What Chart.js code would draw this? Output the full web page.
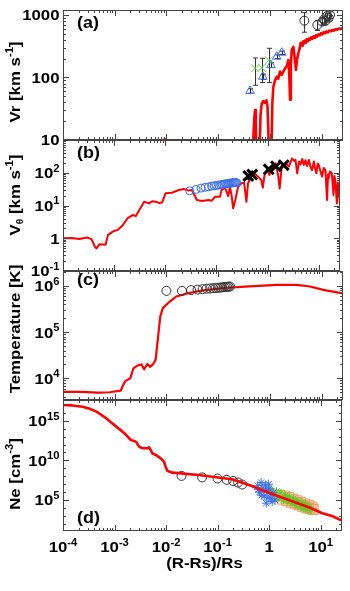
<!DOCTYPE html>
<html><head><meta charset="utf-8">
<script src="https://cdn.jsdelivr.net/npm/chart.js@4.4.1/dist/chart.umd.min.js"></script>
<style>
html,body{margin:0;padding:0;background:#fff;width:350px;height:591px;overflow:hidden;position:relative}
canvas{position:absolute;left:0}
</style></head><body>
<canvas id="ca" width="350" height="150" style="top:0px"></canvas>
<canvas id="cb" width="350" height="151" style="top:130px"></canvas>
<canvas id="cc" width="350" height="149" style="top:261px"></canvas>
<canvas id="cd" width="350" height="201" style="top:390px"></canvas>
<script>
// ---------- tick labels ----------
const xTickVals = [1e-4, 1e-3, 1e-2, 1e-1, 1, 10];
const xTickLabels = ['10^{-4}', '10^{-3}', '10^{-2}', '10^{-1}', '1', '10^{1}'];
const xTitle = '(R-Rs)/Rs';

const vrTickVals = [10, 100, 1000];
const vrTickLabels = ['10', '100', '1000'];
const vtTickVals = [0.1, 1, 10, 100];
const vtTickLabels = ['10^{-1}', '1', '10^{1}', '10^{2}'];
const tTickVals = [1e4, 1e5, 1e6];
const tTickLabels = ['10^{4}', '10^{5}', '10^{6}'];
const neTickVals = [1e5, 1e10, 1e15];
const neTickLabels = ['10^{5}', '10^{10}', '10^{15}'];

const titles = ['Vr [km s^{-1}]', 'V_{θ} [km s^{-1}]', 'Temperature [K]', 'Ne [cm^{-3}]'];
const panelLabels = ['(a)', '(b)', '(c)', '(d)'];

// ---------- panel (a): radial velocity ----------
const vrModel = [[0.0088,4],[0.0093,10.4],[0.0098,4],[0.30,3],[0.46,5],[0.50,22],[0.518,30],[0.535,15],[0.556,5],
 [0.63,5],[0.66,25],[0.697,38],[0.75,42],[0.80,39],[0.86,43],[0.90,35],[0.94,12],[0.97,4],[1.06,4],[1.12,40],
 [1.17,71],[1.26,90],[1.36,103],[1.45,95],[1.57,124],[1.70,110],[1.83,125],[1.97,140],[2.12,150],[2.28,190],
 [2.37,120],[2.46,44],[2.55,150],[2.65,275],[2.85,310],[3.0,220],[3.2,132],[3.38,200],[3.56,244],[3.8,300],
 [3.95,360],[4.14,352],[4.3,320],[4.45,380],[4.6,350],[4.8,390],[5.0,360],[5.2,410],[5.4,380],[5.7,420],
 [6.0,400],[6.3,440],[6.6,415],[7.0,455],[7.4,430],[7.8,475],[8.2,450],[8.7,490],[9.2,470],[9.8,510],
 [10.4,490],[11.0,530],[11.7,510],[12.4,545],[13.2,525],[14.0,560],[15.0,545],[16.0,575],[17.2,560],
 [18.5,590],[20.0,580],[21.5,605],[23.0,595],[25.0,615],[26.5,612]];
// [x, v, error]
const vrCircles = [[4.65,810,280],[8.3,690,125],[10.3,780,90],[11.2,850,100],[11.8,800,90],[12.8,960,110],[13.8,900,100],[14.6,1000,120]];
const vrTriangles = [[0.414,61,5],[0.73,103,10],[1.05,158,14],[1.36,215,15],[1.70,249,15]];
const vrCrosses = [[0.518,140,65],[0.70,143,60],[0.96,188,105]];

// ---------- panel (b): tangential velocity ----------
const vtModel = [[1e-4,1.0],[1.47e-4,1.02],[2.1e-4,0.95],[2.96e-4,1.05],[3.6e-4,0.94],[4.2e-4,0.55],[4.5e-4,0.49],
 [5.2e-4,0.66],[6.8e-4,0.63],[7.6e-4,1.27],[9.4e-4,1.6],[1.17e-3,1.8],[1.47e-3,2.5],[1.84e-3,4.1],[2.3e-3,5.1],
 [2.66e-3,4.8],[3.1e-3,7.3],[3.86e-3,13],[4.8e-3,11.6],[5.5e-3,13.5],[6.5e-3,13],[7.5e-3,12],[8.7e-3,12.4],
 [1.01e-2,23.5],[1.35e-2,24.6],[1.83e-2,29.7],[2.29e-2,32],[2.86e-2,28.5],[3.3e-2,29.7],[4.15e-2,14.7],
 [5.2e-2,13.7],[7.0e-2,14.7],[8.1e-2,14],[9.4e-2,18.5],[0.117,18.6],[0.126,30],[0.147,35],[0.17,19.4],
 [0.183,37.5],[0.197,21],[0.212,8.2],[0.235,15.5],[0.265,37.5],[0.307,47.6],[0.346,50],[0.385,13],[0.414,47.6],
 [0.48,76],[0.557,96],[0.646,76],[0.75,60],[0.807,35],[0.87,85],[1.0,136],[1.08,85],[1.16,120],[1.43,194],
 [1.6,85],[1.72,33],[1.9,173],[2.26,194],[2.6,155],[3.0,275],[3.3,230],[3.5,250],[3.79,96],[4.1,220],[4.4,180],
 [4.75,263],[5.1,172],[5.5,240],[5.9,160],[6.4,245],[6.9,150],[7.4,120],[8.0,220],[8.5,130],[9.0,96],[9.5,190],
 [10,173],[10.8,110],[11.6,76],[12.5,140],[13.5,120],[14.5,14.7],[15.2,90],[15.6,67],[16.5,110],[18,96],
 [19.4,21],[20.2,80],[21,60],[22.6,11.6],[23.5,50],[24.3,37.5],[25.2,20],[26,10.3]];
const vtCircles = [[0.03,28],[0.04,31],[0.05,34],[0.06,36],[0.07,37],[0.08,39],[0.09,40],[0.10,41],[0.11,42],
 [0.12,43],[0.13,44],[0.14,45],[0.15,46],[0.16,46],[0.17,47],[0.18,48],[0.19,48],[0.20,49],[0.21,49],[0.22,50],
 [0.23,50],[0.24,50],[0.25,49]];
const vtCrosses = [[0.42,80],[0.50,88],[1.05,127],[1.46,158],[2.06,170]];

// ---------- panel (c): temperature ----------
const tModel = [[1e-4,5100],[2.4e-4,5100],[4.6e-4,4900],[8e-4,5000],[1.3e-3,5400],[1.46e-3,7200],[1.6e-3,8700],
 [2.0e-3,10000],[2.3e-3,16500],[2.7e-3,18700],[3.3e-3,20000],[3.7e-3,15700],[4.3e-3,20500],[4.8e-3,17800],
 [5.5e-3,20000],[6.2e-3,25700],[6.9e-3,79000],[7.6e-3,216000],[8.5e-3,330000],[1.07e-2,422000],[1.55e-2,590000],
 [2.6e-2,694000],[4.7e-2,790000],[0.115,890000],[0.33,966000],[1.35,1.05e6],[3.3,1.05e6],[6.0,970000],
 [10.8,820000],[26,690000]];
const tCircles = [[0.01,780000],[0.02,780000],[0.03,810000],[0.04,830000],[0.05,850000],[0.06,870000],
 [0.07,880000],[0.08,890000],[0.09,900000],[0.10,910000],[0.11,920000],[0.12,930000],[0.13,940000],
 [0.14,950000],[0.15,955000],[0.16,960000],[0.17,970000]];

// ---------- panel (d): electron density ----------
const neModel = [[1e-4,9.5e16],[1.5e-4,8.5e16],[2.4e-4,5.9e16],[3.3e-4,3.2e16],[4.45e-4,1.4e16],[5.5e-4,5.6e15],
 [6.9e-4,2e15],[8.5e-4,6.3e14],[1.08e-3,1.8e14],[1.56e-3,2.6e13],[2.08e-3,3.7e12],[2.6e-3,2.3e12],[3.0e-3,5.4e11],
 [3.5e-3,3.3e11],[4.36e-3,3.3e11],[4.7e-3,4.4e11],[5.05e-3,2.0e11],[5.4e-3,7.8e10],[6.3e-3,4.8e10],[7.9e-3,1.8e10],
 [9.1e-3,6.9e9],[9.8e-3,1.6e9],[1.06e-2,5e8],[1.33e-2,2.8e8],[4.3e-2,1.4e8],[0.19,4.1e7],[0.41,7.9e6],[1.0,8.3e5],
 [2.4,1e5],[5.9,1.2e4],[10.8,2.1e3],[16.7,950],[26,245]];
const neCircles = [[0.02,1.1e8],[0.05,7.1e7],[0.1,5.2e7],[0.15,3.5e7],[0.2,2.5e7],[0.25,1.6e7],[0.3,8.9e6]];
const neStars = [[0.6,6.3e6],[0.65,1e6],[0.7,1.6e7],[0.75,3.2e6],[0.8,3.2e5],[0.85,7.9e6],[0.9,1.6e6],[0.95,2e5],
 [1.0,2.5e6],[1.05,6.3e5],[1.1,1.6e5],[1.2,7.9e5],[1.3,1e5],[0.72,4e5],[0.88,4e4],[1.15,6.3e4],[0.62,2e6],[0.98,1e7]];
const neGreen = [[1.1,2.5e6],[1.25,4e5],[1.4,1.3e6],[1.55,1.6e5],[1.7,7.9e5],[1.9,1e5],[2.1,4e5],[2.3,6.3e4],
 [2.5,2.5e5],[2.8,4e4],[3.0,1.6e5],[3.3,2.5e4],[3.6,8e4],[4.0,1.3e4],[4.3,5e4],[4.7,8e3],[5.1,3.2e4],[5.5,6.3e3],
 [6.0,1.6e4],[6.5,5e3]];
const neSquares = [[1.6,4e5],[1.8,1.3e5],[2.0,3.2e5],[2.2,8e4],[2.4,2e5],[2.7,5e4],[2.9,1.3e5],[3.2,3.2e4],[3.5,8e4],
 [3.8,2.5e4],[4.1,5e4],[4.5,1.6e4],[4.9,3.2e4],[5.3,1e4],[5.8,2e4],[6.3,8e3],[6.8,1.3e4],[7.2,6.3e3]];

// ---------- helpers ----------
const FONT = '"Liberation Sans", Arial, Helvetica, sans-serif';
const SX = 1.12;
const pts = a => a.map(p => ({x: p[0], y: p[1]}));

function parseRich(s) {
  const out = []; let buf = '', i = 0;
  while (i < s.length) {
    const c = s[i];
    if ((c === '^' || c === '_') && s[i + 1] === '{') {
      if (buf) { out.push([buf, 'n']); buf = ''; }
      const j = s.indexOf('}', i);
      out.push([s.slice(i + 2, j), c === '^' ? 'sup' : 'sub']);
      i = j + 1;
    } else { buf += c; i++; }
  }
  if (buf) out.push([buf, 'n']);
  return out;
}
function drawRich(ctx, str, x, y, align, size) {
  const segs = parseRich(str).map(([t, k]) => {
    const s = k === 'n' ? size : (k === 'sup' ? Math.round(size * 0.66) : Math.round(size * 0.6));
    ctx.font = `bold ${s}px ${FONT}`;
    return {t, k, s, w: ctx.measureText(t).width * SX};
  });
  const W = segs.reduce((a, b) => a + b.w, 0);
  let cx = align === 'center' ? x - W / 2 : (align === 'right' ? x - W : x);
  ctx.textAlign = 'left'; ctx.textBaseline = 'alphabetic';
  for (const g of segs) {
    const dy = g.k === 'sup' ? -size * 0.43 : (g.k === 'sub' ? size * 0.22 : 0);
    ctx.font = `bold ${g.s}px ${FONT}`;
    ctx.save(); ctx.translate(cx, y + dy); ctx.scale(SX, 1); ctx.fillText(g.t, 0, 0); ctx.restore();
    cx += g.w;
  }
}
function minors(lo, hi, mode) {
  const out = [];
  for (let e = Math.floor(Math.log10(lo)) - 1; e <= Math.ceil(Math.log10(hi)); e++) {
    const d = Math.pow(10, e);
    if (mode === 'dec') { if (d >= lo && d <= hi) out.push(d); }
    else for (let k = 2; k <= 9; k++) { const v = k * d; if (v >= lo * 0.999 && v <= hi) out.push(v); }
  }
  return out;
}

const PANELS = {
  ca: {top: 0, yMin: 10, yMax: 1200, tv: vrTickVals, tl: vrTickLabels, ym: 'sub', title: titles[0], titleY: 82, label: panelLabels[0], labelY: 27.5,
       err: [[vrCircles, '#333'], [vrCrosses, '#333'], [vrTriangles, '#222']]},
  cb: {top: 130, yMin: 0.1, yMax: 1000, tv: vtTickVals, tl: vtTickLabels, ym: 'sub', title: titles[1], titleY: 195, label: panelLabels[1], labelY: 157.5, err: []},
  cc: {top: 261, yMin: 3400, yMax: 2.1e6, tv: tTickVals, tl: tTickLabels, ym: 'sub', title: titles[2], titleY: 329, label: panelLabels[2], labelY: 285, err: []},
  cd: {top: 390, yMin: 12.3, yMax: 4.1e17, tv: neTickVals, tl: neTickLabels, ym: 'dec', title: titles[3], titleY: 474, label: panelLabels[3], labelY: 523, err: [], xlab: true}
};

const idlPlugin = {
  id: 'idl',
  beforeDatasetsDraw(chart) {
    const cfg = PANELS[chart.canvas.id]; const {ctx, chartArea: a} = chart;
    const xs = chart.scales.x, ys = chart.scales.y;
    ctx.save();
    ctx.beginPath(); ctx.rect(a.left, a.top, a.right - a.left, a.bottom - a.top); ctx.clip();
    ctx.lineWidth = 1;
    for (const [set, col] of cfg.err) {
      ctx.strokeStyle = col;
      for (const [x, y, e] of set) {
        const px = Math.round(xs.getPixelForValue(x)) + 0.5;
        const y1 = ys.getPixelForValue(y + e), y2 = ys.getPixelForValue(Math.max(y - e, 1e-9));
        ctx.beginPath();
        ctx.moveTo(px, y1); ctx.lineTo(px, y2);
        ctx.moveTo(px - 2.5, y1); ctx.lineTo(px + 2.5, y1);
        ctx.moveTo(px - 2.5, y2); ctx.lineTo(px + 2.5, y2);
        ctx.stroke();
      }
    }
    ctx.restore();
  },
  afterDraw(chart) {
    const cfg = PANELS[chart.canvas.id]; const {ctx, chartArea: a} = chart;
    const xs = chart.scales.x, ys = chart.scales.y;
    ctx.save();
    ctx.strokeStyle = '#444'; ctx.lineWidth = 1;
    ctx.strokeRect(a.left + 0.5, a.top + 0.5, a.right - a.left - 1, a.bottom - a.top - 1);
    const tick = (isX, v, len) => {
      ctx.beginPath();
      if (isX) {
        const p = Math.round(xs.getPixelForValue(v)) + 0.5;
        if (p < a.left || p > a.right) return;
        ctx.moveTo(p, a.top); ctx.lineTo(p, a.top + len);
        ctx.moveTo(p, a.bottom); ctx.lineTo(p, a.bottom - len);
      } else {
        const p = Math.round(ys.getPixelForValue(v)) + 0.5;
        if (p < a.top - 0.5 || p > a.bottom + 0.5) return;
        ctx.moveTo(a.left, p); ctx.lineTo(a.left + len, p);
        ctx.moveTo(a.right, p); ctx.lineTo(a.right - len, p);
      }
      ctx.stroke();
    };
    minors(1e-4, 26, 'sub').forEach(v => tick(true, v, 3));
    xTickVals.forEach(v => tick(true, v, 6));
    minors(cfg.yMin, cfg.yMax, cfg.ym).forEach(v => tick(false, v, 3));
    cfg.tv.forEach(v => tick(false, v, 6));

    ctx.fillStyle = '#000';
    cfg.tv.forEach((v, i) => {
      const p = ys.getPixelForValue(v);
      drawRich(ctx, cfg.tl[i], 59.5, p + 5.4, 'right', 15);
    });
    if (cfg.xlab) {
      xTickVals.forEach((v, i) => {
        const p = xs.getPixelForValue(v);
        drawRich(ctx, xTickLabels[i], p, 552 - cfg.top, 'center', 15);
      });
      drawRich(ctx, xTitle, (a.left + a.right) / 2 + 2, 568 - cfg.top, 'center', 15);
    }
    drawRich(ctx, cfg.label, 77, cfg.labelY - cfg.top, 'left', 16);
    ctx.save();
    ctx.translate(19.5, cfg.titleY - cfg.top);
    ctx.rotate(-Math.PI / 2);
    drawRich(ctx, cfg.title, 0, 0, 'center', 15);
    ctx.restore();
    ctx.restore();
  }
};

function lineDs(data, w) {
  return {data: pts(data), showLine: true, borderColor: '#ff0000', borderWidth: w, pointRadius: 0,
          borderJoinStyle: 'round', borderCapStyle: 'round', tension: 0};
}
function markDs(data, style, r, col, bw, fill) {
  return {data: pts(data), showLine: false, pointStyle: style, pointRadius: r, pointBorderColor: col,
          pointBackgroundColor: fill || 'rgba(0,0,0,0)', pointBorderWidth: bw, borderColor: col, backgroundColor: fill || 'rgba(0,0,0,0)'};
}
function makeChart(id, datasets, padBottom) {
  const cfg = PANELS[id];
  return new Chart(document.getElementById(id), {
    type: 'scatter',
    data: {datasets},
    options: {
      responsive: false, animation: false, devicePixelRatio: 1, events: [],
      layout: {padding: {left: 63, right: 7, top: 10, bottom: padBottom}},
      plugins: {legend: {display: false}, tooltip: {enabled: false}},
      scales: {
        x: {type: 'logarithmic', min: 1e-4, max: 26, display: false},
        y: {type: 'logarithmic', min: cfg.yMin, max: cfg.yMax, display: false}
      }
    },
    plugins: [idlPlugin]
  });
}

makeChart('ca', [
  markDs(vrCircles, 'circle', 4.5, '#333', 1),
  markDs(vrTriangles, 'triangle', 5, '#3b6fe8', 1),
  markDs(vrCrosses, 'crossRot', 5.5, '#5fd43a', 1),
  lineDs(vrModel, 2.6)
], 10);
makeChart('cb', [
  markDs(vtCrosses, 'crossRot', 7, '#000', 3),
  markDs(vtCircles, 'circle', 4, '#3b6fe8', 1),
  lineDs(vtModel, 2)
], 10);
makeChart('cc', [
  markDs(tCircles, 'circle', 4.5, '#333', 1),
  lineDs(tModel, 2.2)
], 10);
makeChart('cd', [
  lineDs(neModel, 2.6),
  markDs(neCircles, 'circle', 4.5, '#333', 1),
  markDs(neStars, 'star', 4.5, '#3b6fe8', 1),
  markDs(neGreen, 'star', 4, '#55cc22', 1),
  markDs(neSquares, 'rect', 7, '#f39a5a', 1, 'rgba(250,175,120,0.12)')
], 60);
</script>
</body></html>
